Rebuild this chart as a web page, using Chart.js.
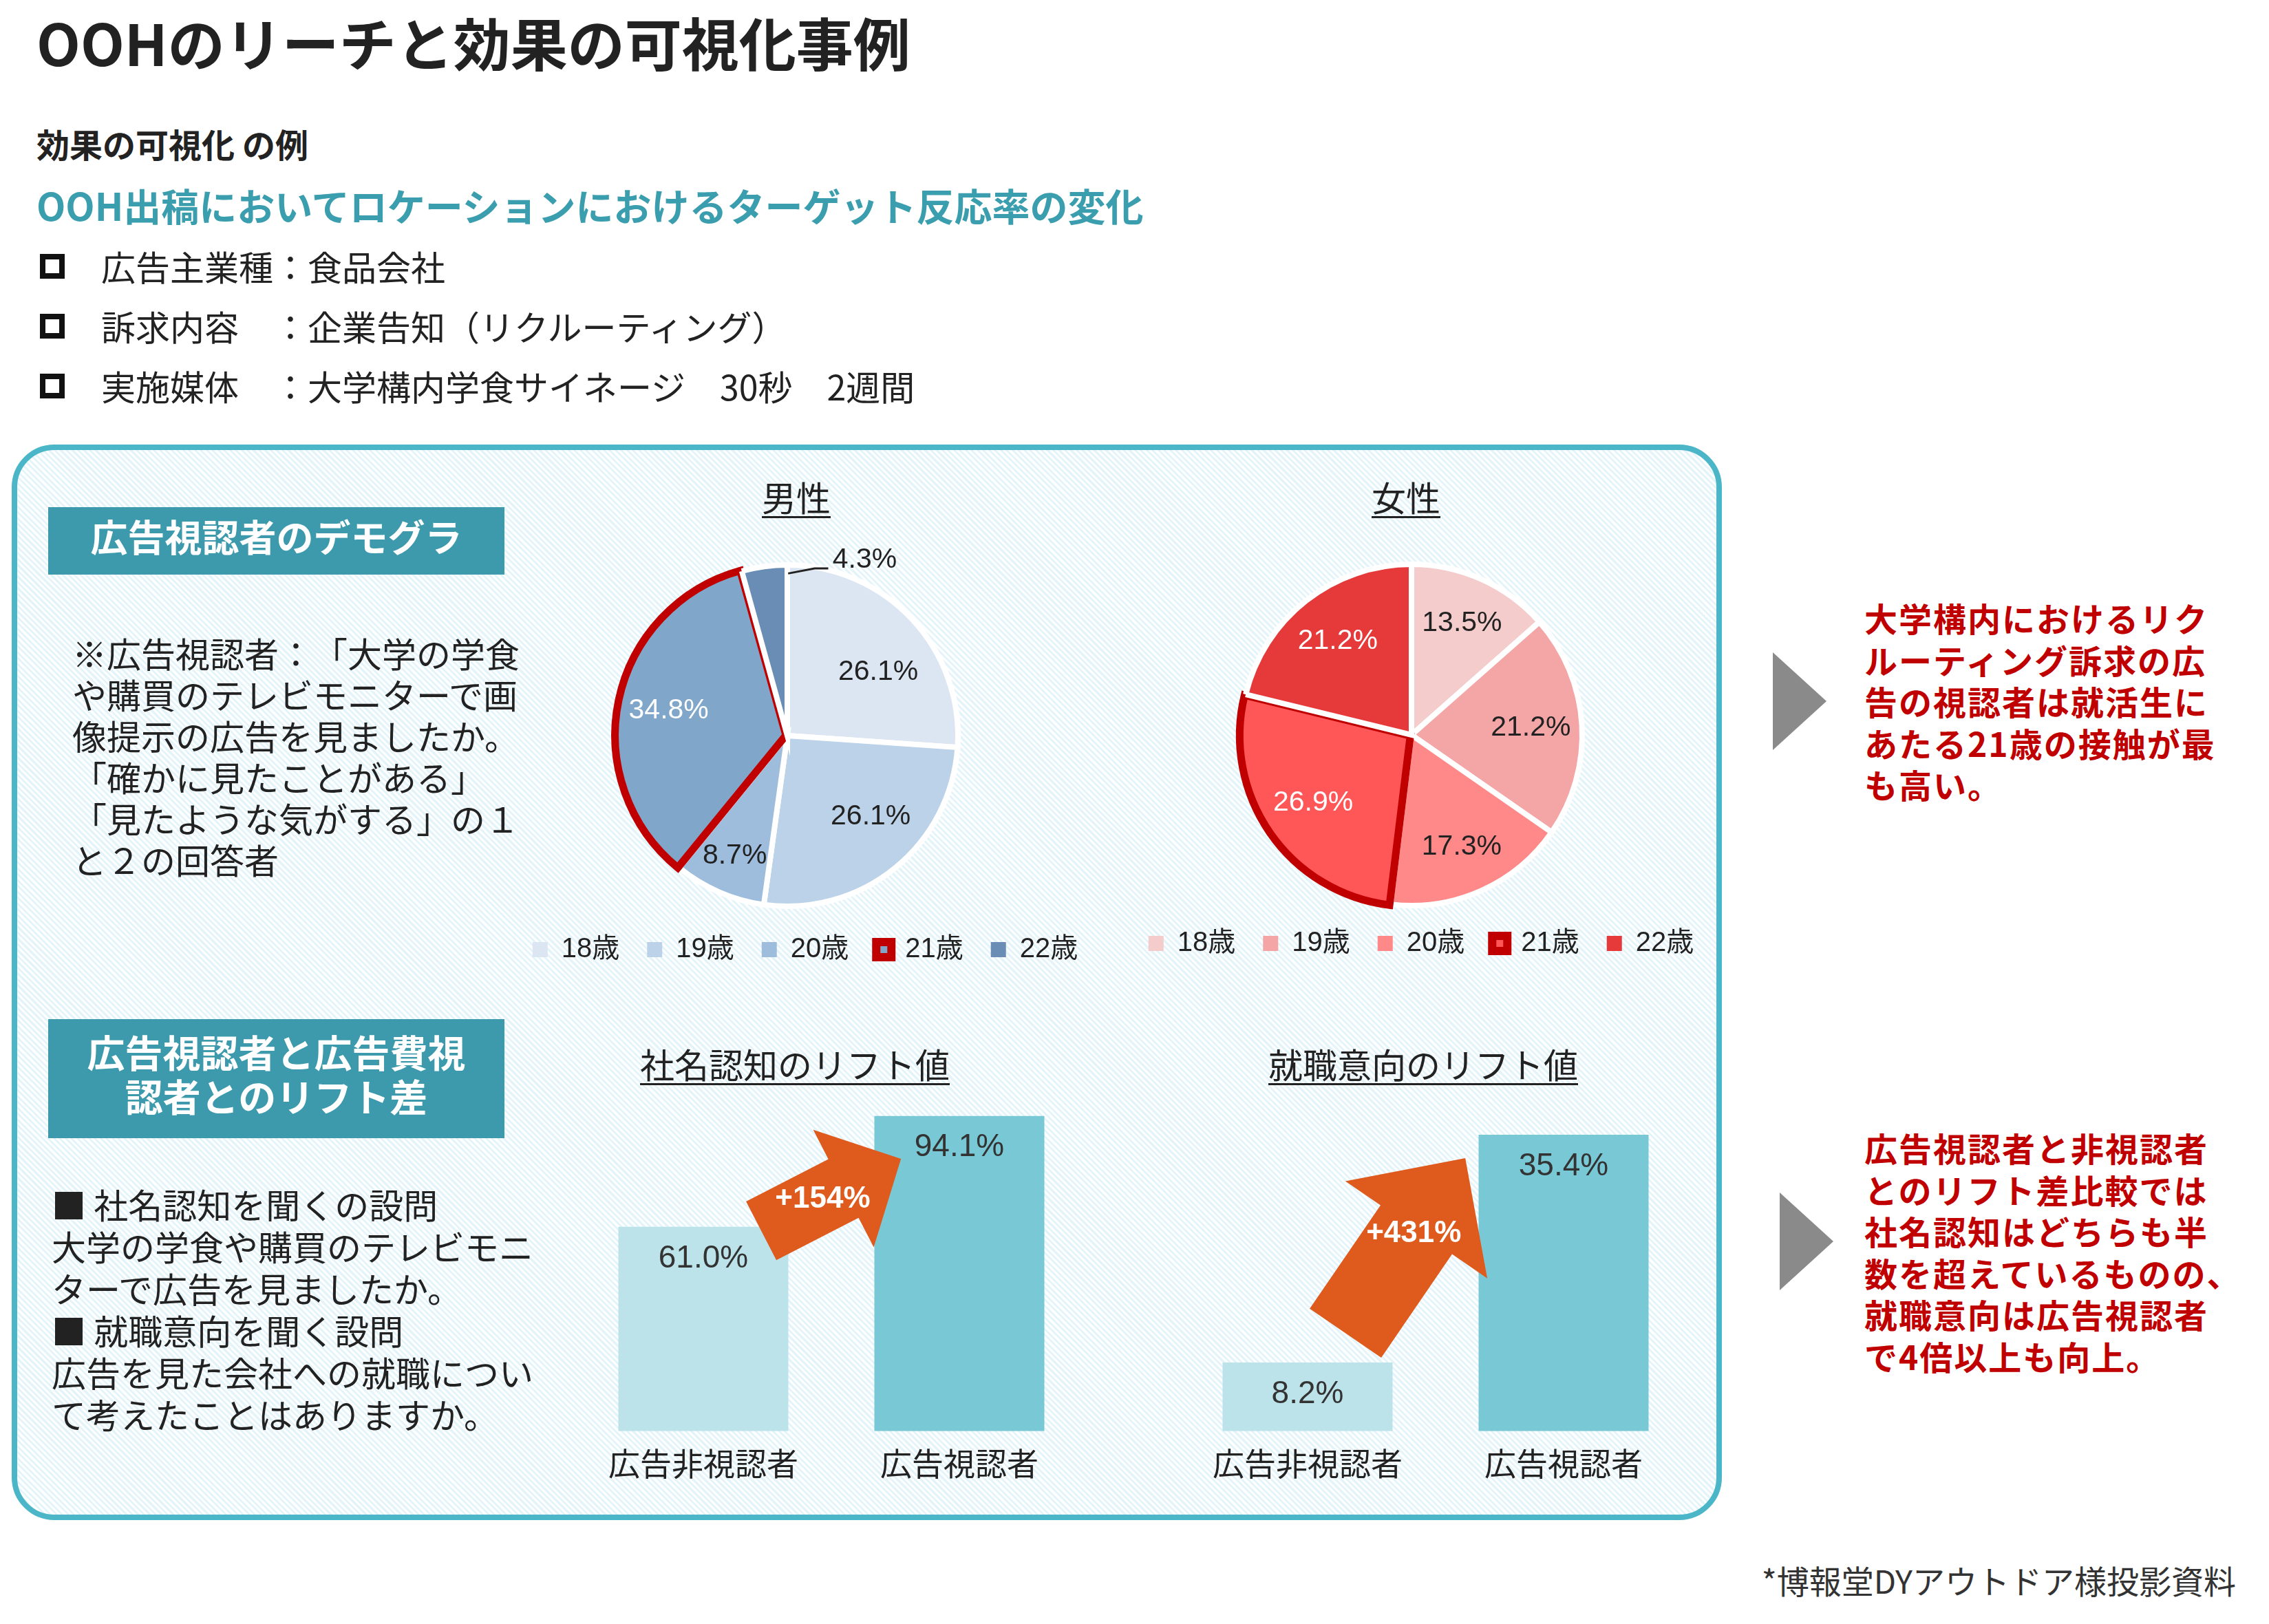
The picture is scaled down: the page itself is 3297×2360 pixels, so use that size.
<!DOCTYPE html>
<html lang="ja">
<head>
<meta charset="utf-8">
<script src="https://cdn.jsdelivr.net/npm/chart.js@4.4.1/dist/chart.umd.min.js"></script>
<style>
html, body { margin: 0; padding: 0; background: #fff; }
body { width: 3297px; height: 2360px; position: relative; overflow: hidden;
  font-family: "Noto Sans CJK JP", "Noto Sans", sans-serif; color: #222; text-spacing-trim: space-all; }
.t { position: absolute; white-space: nowrap; line-height: 1; }
.c { transform: translateX(-50%); }
.u { text-decoration: underline; text-decoration-thickness: 3px; text-underline-offset: 7px; }
.sq { position: absolute; width: 36px; height: 36px; border: 8px solid #111; box-sizing: border-box; }
.panel { position: absolute; left: 17px; top: 646px; width: 2485px; height: 1563px;
  box-sizing: border-box; border: 8px solid #4ab6c8; border-radius: 62px;
  background: repeating-linear-gradient(45deg, #ffffff 0px, #ffffff 3px, #e3f5fa 3px, #e3f5fa 6px); }
.tag { position: absolute; left: 70px; width: 663px; background: #3d9aad; color: #fff;
  font-weight: 700; text-align: center; }
.red { color: #c00000; font-weight: 700; font-size: 48px; letter-spacing: 2px; line-height: 60.5px; }
.tri { position: absolute; width: 0; height: 0; border-left: 78px solid #8a8a8a;
  border-top: 71px solid transparent; border-bottom: 71px solid transparent; }
canvas { position: absolute; }
</style>
</head>
<body>

<div class="t" style="left:53px;top:19px;font-size:83px;font-weight:700;">OOHのリーチと効果の可視化事例</div>
<div class="t" style="left:53px;top:184px;font-size:48px;font-weight:700;">効果の可視化 の例</div>
<div class="t" style="left:53px;top:270px;font-size:55px;font-weight:700;color:#3b9eae;">OOH出稿においてロケーションにおけるターゲット反応率の変化</div>

<div class="sq" style="left:58px;top:369px;"></div>
<div class="t" style="left:147px;top:361px;font-size:50px;">広告主業種：食品会社</div>
<div class="sq" style="left:58px;top:456px;"></div>
<div class="t" style="left:147px;top:448px;font-size:50px;">訴求内容　：企業告知（リクルーティング）</div>
<div class="sq" style="left:58px;top:543px;"></div>
<div class="t" style="left:147px;top:535px;font-size:50px;">実施媒体　：大学構内学食サイネージ　30秒　2週間</div>

<div class="panel"></div>

<div class="tag" style="top:737px;height:98px;font-size:54px;line-height:84px;">広告視認者のデモグラ</div>
<div class="t" style="left:105px;top:918px;font-size:50px;line-height:60px;">※広告視認者：「大学の学食<br>や購買のテレビモニターで画<br>像提示の広告を見ましたか。<br>「確かに見たことがある」<br>「見たような気がする」の１<br>と２の回答者</div>

<div class="t c u" style="left:1157px;top:696px;font-size:50px;">男性</div>
<div class="t c u" style="left:2043px;top:696px;font-size:50px;">女性</div>

<div class="tag" style="top:1481px;height:173px;font-size:55px;line-height:64px;padding-top:14px;box-sizing:border-box;">広告視認者と広告費視<br>認者とのリフト差</div>
<div class="t" style="left:75px;top:1719px;font-size:50px;line-height:61px;">■ 社名認知を聞くの設問<br>大学の学食や購買のテレビモニ<br>ターで広告を見ましたか。<br>■ 就職意向を聞く設問<br>広告を見た会社への就職につい<br>て考えたことはありますか。</div>

<div class="t c u" style="left:1155px;top:1520px;font-size:50px;">社名認知のリフト値</div>
<div class="t c u" style="left:2068px;top:1520px;font-size:50px;">就職意向のリフト値</div>

<canvas id="malePie" width="900" height="652" style="left:720px;top:758px;"></canvas>
<canvas id="femalePie" width="900" height="636" style="left:1615px;top:765px;"></canvas>
<canvas id="nameBar" width="744" height="580" style="left:836px;top:1593px;"></canvas>
<canvas id="jobBar" width="744" height="580" style="left:1714px;top:1593px;"></canvas>

<div class="tri" style="left:2576px;top:948px;"></div>
<div class="t red" style="left:2709px;top:867px;">大学構内におけるリク<br>ルーティング訴求の広<br>告の視認者は就活生に<br>あたる21歳の接触が最<br>も高い。</div>
<div class="tri" style="left:2586px;top:1733px;"></div>
<div class="t red" style="left:2709px;top:1637px;">広告視認者と非視認者<br>とのリフト差比較では<br>社名認知はどちらも半<br>数を超えているものの、<br>就職意向は広告視認者<br>で4倍以上も向上。</div>

<div class="t" style="right:48px;top:2272px;font-size:47px;color:#333;">*博報堂DYアウトドア様投影資料</div>

<script>
// data
var ageLabels = ['18歳', '19歳', '20歳', '21歳', '22歳'];
var maleShare = [26.1, 26.1, 8.7, 34.8, 4.3];
var femaleShare = [13.5, 21.2, 17.3, 26.9, 21.2];

var barLabels = ['広告非視認者', '広告視認者'];
var nameAwareness = [61.0, 94.1];
var jobIntent = [8.2, 35.4];
var nameLift = '+154%';
var jobLift = '+431%';

var maleColors = ['#dbe6f2', '#bbd2e8', '#9ebddc', '#80a7ca', '#698db4'];
var femaleColors = ['#f4cccc', '#f4a6a6', '#ff8989', '#ff5757', '#e63a3a'];
var hiIndex = 3; // 21歳
var latin = '"Liberation Sans", "Noto Sans CJK JP", sans-serif';

Chart.defaults.font.family = latin;
Chart.defaults.color = '#222';

var pieLabels = {
    id: 'pieLabels',
    afterDatasetsDraw: function (chart, args, o) {
        var ctx = chart.ctx;
        var values = chart.data.datasets[0].data;
        ctx.save();
        ctx.font = '41px ' + latin;
        ctx.textBaseline = 'middle';
        chart.getDatasetMeta(0).data.forEach(function (arc, i) {
            var p = arc.getProps(['x', 'y', 'startAngle', 'endAngle', 'outerRadius'], true);
            var text = values[i].toFixed(1) + '%';
            var r = p.outerRadius;
            if (o.outside[i]) {
                ctx.strokeStyle = '#222';
                ctx.lineWidth = 3;
                ctx.beginPath();
                ctx.moveTo(p.x + 0.005 * r, p.y - 0.95 * r);
                ctx.lineTo(p.x + 0.16 * r, p.y - 0.98 * r);
                ctx.lineTo(p.x + 0.24 * r, p.y - 0.98 * r);
                ctx.stroke();
                ctx.fillStyle = '#222';
                ctx.textAlign = 'left';
                ctx.fillText(text, p.x + 0.265 * r, p.y - 1.03 * r);
                return;
            }
            var mid = (p.startAngle + p.endAngle) / 2 + o.shift[i];
            var k = o.radial[i];
            ctx.fillStyle = o.colors[i];
            ctx.textAlign = 'center';
            ctx.fillText(text, p.x + Math.cos(mid) * r * k, p.y + Math.sin(mid) * r * k);
        });
        ctx.restore();
    }
};

function makePie(id, values, colors, labelColors, radial, shift, outside, spacer) {
    new Chart(document.getElementById(id), {
        type: 'pie',
        data: {
            labels: ageLabels,
            datasets: [{
                data: values,
                backgroundColor: colors,
                borderColor: colors.map(function (c, i) { return i === hiIndex ? '#c00000' : '#ffffff'; }),
                borderWidth: colors.map(function (c, i) { return i === hiIndex ? 11 : 8; }),
                offset: colors.map(function (c, i) { return i === hiIndex ? 8 : 0; }),
                borderJoinStyle: 'miter'
            }]
        },
        options: {
            responsive: false,
            animation: false,
            radius: 248,
            layout: { padding: { top: 60 } },
            plugins: {
                tooltip: { enabled: false },
                title: { display: true, position: 'right', text: ' ', font: { size: 10 }, padding: { top: spacer, bottom: spacer } },
                legend: {
                    position: 'bottom',
                    labels: {
                        boxWidth: 22, boxHeight: 22, padding: 40,
                        font: { size: 40 }, color: '#222',
                        generateLabels: function (chart) {
                            return chart.data.labels.map(function (text, i) {
                                return {
                                    text: text, index: i, hidden: false, fontColor: '#222',
                                    fillStyle: colors[i],
                                    strokeStyle: i === hiIndex ? '#c00000' : colors[i],
                                    lineWidth: i === hiIndex ? 12 : 0
                                };
                            });
                        }
                    }
                },
                pieLabels: { colors: labelColors, radial: radial, shift: shift, outside: outside }
            }
        },
        plugins: [pieLabels]
    });
}

makePie('malePie', maleShare, maleColors, ['#222', '#222', '#222', '#fff', '#222'],
    [0.65, 0.68, 0.77, 0.71, 0], [0.14, -0.12, 0, 0, 0], [false, false, false, false, true], 20);
makePie('femalePie', femaleShare, femaleColors, ['#222', '#222', '#222', '#fff', '#fff'],
    [0.72, 0.7, 0.72, 0.7, 0.7], [0, 0, 0, 0, 0], [false, false, false, false, false], 8);

var barExtras = {
    id: 'barExtras',
    afterDatasetsDraw: function (chart, args, o) {
        var ctx = chart.ctx;
        var xs = chart.scales.x, ys = chart.scales.y;
        var a = o.arrow;
        var tx = xs.getPixelForValue(a.from[0]), ty = ys.getPixelForValue(a.from[1]);
        var px = xs.getPixelForValue(a.to[0]), py = ys.getPixelForValue(a.to[1]);
        var len = Math.hypot(px - tx, py - ty);
        var dx = (px - tx) / len, dy = (py - ty) / len;
        var nx = -dy, ny = dx;
        var bx = px - dx * a.headLength, by = py - dy * a.headLength;
        var s = a.shaft / 2, h = a.head / 2;
        ctx.save();
        ctx.fillStyle = '#df5b1d';
        ctx.beginPath();
        ctx.moveTo(tx + nx * s, ty + ny * s);
        ctx.lineTo(bx + nx * s, by + ny * s);
        ctx.lineTo(bx + nx * h, by + ny * h);
        ctx.lineTo(px, py);
        ctx.lineTo(bx - nx * h, by - ny * h);
        ctx.lineTo(bx - nx * s, by - ny * s);
        ctx.lineTo(tx - nx * s, ty - ny * s);
        ctx.closePath();
        ctx.fill();

        ctx.textAlign = 'center';
        ctx.textBaseline = 'middle';
        ctx.fillStyle = '#ffffff';
        ctx.font = 'bold 44px ' + latin;
        ctx.fillText(a.text, tx + (px - tx) * a.t, ty + (py - ty) * a.t);

        ctx.fillStyle = '#333';
        ctx.font = '46px ' + latin;
        var values = chart.data.datasets[0].data;
        chart.getDatasetMeta(0).data.forEach(function (bar, i) {
            ctx.fillText(values[i].toFixed(1) + '%', bar.x, bar.y + 46);
        });
        ctx.restore();
    }
};

function makeBar(id, values, max, arrow) {
    new Chart(document.getElementById(id), {
        type: 'bar',
        data: {
            labels: barLabels,
            datasets: [{
                data: values,
                backgroundColor: ['#bde3ea', '#78c8d5'],
                barPercentage: 0.664,
                categoryPercentage: 1
            }]
        },
        options: {
            responsive: false,
            animation: false,
            layout: { padding: 0 },
            plugins: {
                legend: { display: false },
                tooltip: { enabled: false },
                barExtras: { arrow: arrow }
            },
            scales: {
                x: {
                    grid: { display: false, drawTicks: false },
                    border: { display: false },
                    ticks: { padding: 19, color: '#222', font: { size: 46, family: '"Noto Sans CJK JP", sans-serif' } }
                },
                y: { display: false, min: 0, max: max }
            }
        },
        plugins: [barExtras]
    });
}

makeBar('nameBar', nameAwareness, 100,
    { from: [0.226, 59.8], to: [0.772, 81.3], shaft: 96, head: 192, headLength: 94, text: nameLift, t: 0.44 });
makeBar('jobBar', jobIntent, 40,
    { from: [0.148, 11.7], to: [0.616, 32.6], shaft: 126, head: 250, headLength: 126, text: jobLift, t: 0.57 });
</script>
</body>
</html>
